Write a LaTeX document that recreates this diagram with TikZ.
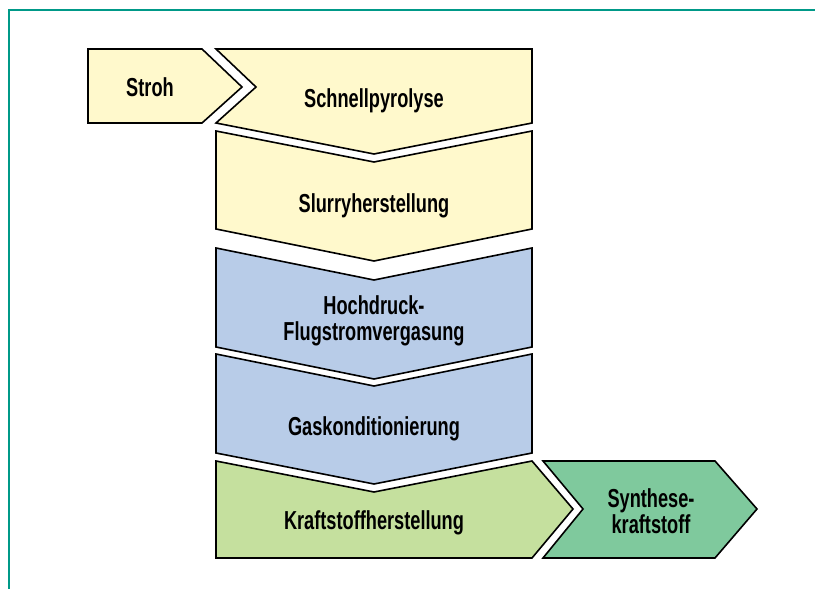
\documentclass[tikz,border=0pt]{standalone}
\usepackage{fontspec}
\newfontfamily\labfont{Liberation Sans}[FakeStretch=0.7]
\definecolor{frameteal}{RGB}{0,153,136}
\definecolor{ylw}{RGB}{255,249,204}
\definecolor{blu}{RGB}{184,204,232}
\definecolor{lgrn}{RGB}{197,224,158}
\definecolor{mgrn}{RGB}{127,201,157}
\tikzset{
  shp/.style={draw=black, line width=1.6pt, line join=miter},
  lbl/.style={font=\labfont\bfseries\fontsize{26}{26}\selectfont, align=center, text=black, inner sep=0pt}
}
\begin{document}
\begin{tikzpicture}[x=1pt,y=-1pt]
\useasboundingbox (0,0) rectangle (815,589);
\fill[white] (0,0) rectangle (815,589);
% frame
\draw[frameteal, line width=2pt] (9,589) -- (9,10) -- (815,10);
% Stroh
\draw[shp, fill=ylw] (88,49) -- (202,49) -- (242,87) -- (202,123) -- (88,123) -- cycle;
% Schnellpyrolyse
\draw[shp, fill=ylw] (216,49) -- (532,49) -- (532,123) -- (374,154) -- (216,123) -- (256,87) -- cycle;
% Slurryherstellung
\draw[shp, fill=ylw] (216,131) -- (374,162) -- (532,131) -- (532,229) -- (374,261) -- (216,229) -- cycle;
% Hochdruck
\draw[shp, fill=blu] (216,248) -- (374,280) -- (532,248) -- (532,347) -- (374,379) -- (216,347) -- cycle;
% Gaskonditionierung
\draw[shp, fill=blu] (216,354) -- (374,386) -- (532,354) -- (532,453) -- (374,484) -- (216,453) -- cycle;
% Kraftstoffherstellung
\draw[shp, fill=lgrn] (216,461) -- (374,492) -- (532,461) -- (573,509) -- (532,558) -- (216,558) -- cycle;
% Synthesekraftstoff
\draw[shp, fill=mgrn] (543,461) -- (715,461) -- (757,509) -- (715,558) -- (543,558) -- (583,509) -- cycle;
% labels
\node[lbl] (stroh) at (150,87) {Stroh};
\node[lbl] (pyro) at (374,101) {Schnellpyrolyse};
\node[lbl] (slurry) at (374,206) {Slurryherstellung};
\node[lbl] (hochdruck) at (374,321) {Hochdruck-\\Flugstromvergasung};
\node[lbl] (gas) at (374,429) {Gaskonditionierung};
\node[lbl] (kraft) at (374,523) {Kraftstoffherstellung};
\node[lbl] (synth) at (651,511) {Synthese-\\kraftstoff};
\end{tikzpicture}
\end{document}
